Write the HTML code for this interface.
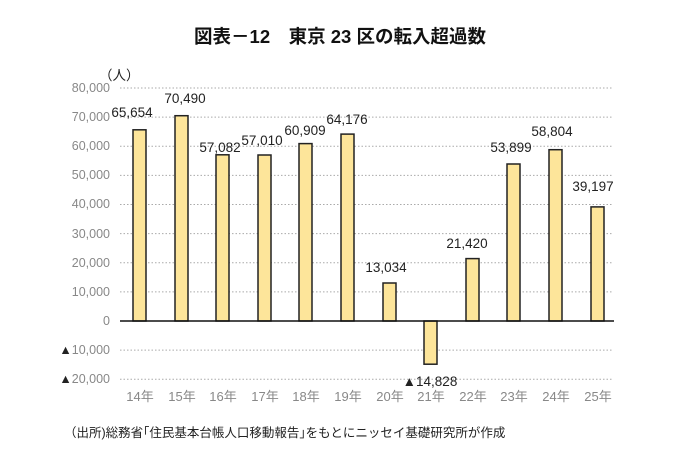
<!DOCTYPE html>
<html><head><meta charset="utf-8"><style>
body{margin:0;background:#fff}
svg text{font-family:"Liberation Sans","Noto Sans CJK JP",sans-serif}
</style></head><body>
<svg width="680" height="471" xmlns="http://www.w3.org/2000/svg">
<rect width="680" height="471" fill="#fff"/>
<text x="340" y="43" font-size="18.5" font-weight="bold" text-anchor="middle" fill="#111">図表－12　東京 23 区の転入超過数</text>
<text x="99" y="80" font-size="13.5" fill="#222">（人）</text>
<g stroke="#aaa" stroke-dasharray="1.5,2" stroke-width="1">
<line x1="120" x2="612" y1="88" y2="88"/><line x1="120" x2="612" y1="117.1" y2="117.1"/>
<line x1="120" x2="612" y1="146.2" y2="146.2"/><line x1="120" x2="612" y1="175.4" y2="175.4"/>
<line x1="120" x2="612" y1="204.5" y2="204.5"/><line x1="120" x2="612" y1="233.6" y2="233.6"/>
<line x1="120" x2="612" y1="262.8" y2="262.8"/><line x1="120" x2="612" y1="291.9" y2="291.9"/>
<line x1="120" x2="612" y1="350.1" y2="350.1"/><line x1="120" x2="612" y1="379.2" y2="379.2"/>
</g>
<g font-size="12.5" fill="#888" text-anchor="end">
<text x="110" y="92">80,000</text><text x="110" y="121">70,000</text><text x="110" y="150">60,000</text>
<text x="110" y="179">50,000</text><text x="110" y="208">40,000</text><text x="110" y="238">30,000</text>
<text x="110" y="267">20,000</text><text x="110" y="296">10,000</text><text x="110" y="325">0</text>
<text x="110" y="354"><tspan fill="#222">▲</tspan>10,000</text><text x="110" y="383"><tspan fill="#222">▲</tspan>20,000</text>
</g>
<g fill="#fde59a" stroke="#222" stroke-width="1.5">
<rect x="133" y="129.8" width="13" height="191.2"/>
<rect x="175" y="115.7" width="13" height="205.3"/>
<rect x="216" y="154.8" width="13" height="166.2"/>
<rect x="258" y="155" width="13" height="166"/>
<rect x="299" y="143.6" width="13" height="177.4"/>
<rect x="341" y="134.1" width="13" height="186.9"/>
<rect x="383" y="283" width="13" height="38"/>
<rect x="424" y="321" width="13" height="43.2"/>
<rect x="466" y="258.6" width="13" height="62.4"/>
<rect x="507" y="164" width="13" height="157"/>
<rect x="549" y="149.7" width="13" height="171.3"/>
<rect x="591" y="206.9" width="13" height="114.1"/>
</g>
<line x1="120" x2="614" y1="321" y2="321" stroke="#111" stroke-width="1.5"/>
<g font-size="13.5" fill="#222" text-anchor="middle">
<text x="132" y="117">65,654</text><text x="185" y="103">70,490</text><text x="220" y="152">57,082</text>
<text x="262" y="145">57,010</text><text x="305" y="135">60,909</text><text x="347" y="124">64,176</text>
<text x="386" y="272">13,034</text><text x="430" y="386">▲14,828</text><text x="467" y="248">21,420</text>
<text x="511" y="152">53,899</text><text x="552" y="136">58,804</text><text x="593" y="191">39,197</text>
</g>
<g font-size="13" fill="#888" text-anchor="middle">
<text x="140" y="401">14年</text><text x="182" y="401">15年</text><text x="223" y="401">16年</text>
<text x="265" y="401">17年</text><text x="306" y="401">18年</text><text x="348" y="401">19年</text>
<text x="390" y="401">20年</text><text x="431" y="401">21年</text><text x="473" y="401">22年</text>
<text x="514" y="401">23年</text><text x="556" y="401">24年</text><text x="598" y="401">25年</text>
</g>
<text x="64" y="437" font-size="12.5" fill="#222">（出所)総務省｢住民基本台帳人口移動報告｣をもとにニッセイ基礎研究所が作成</text>
</svg>
</body></html>
